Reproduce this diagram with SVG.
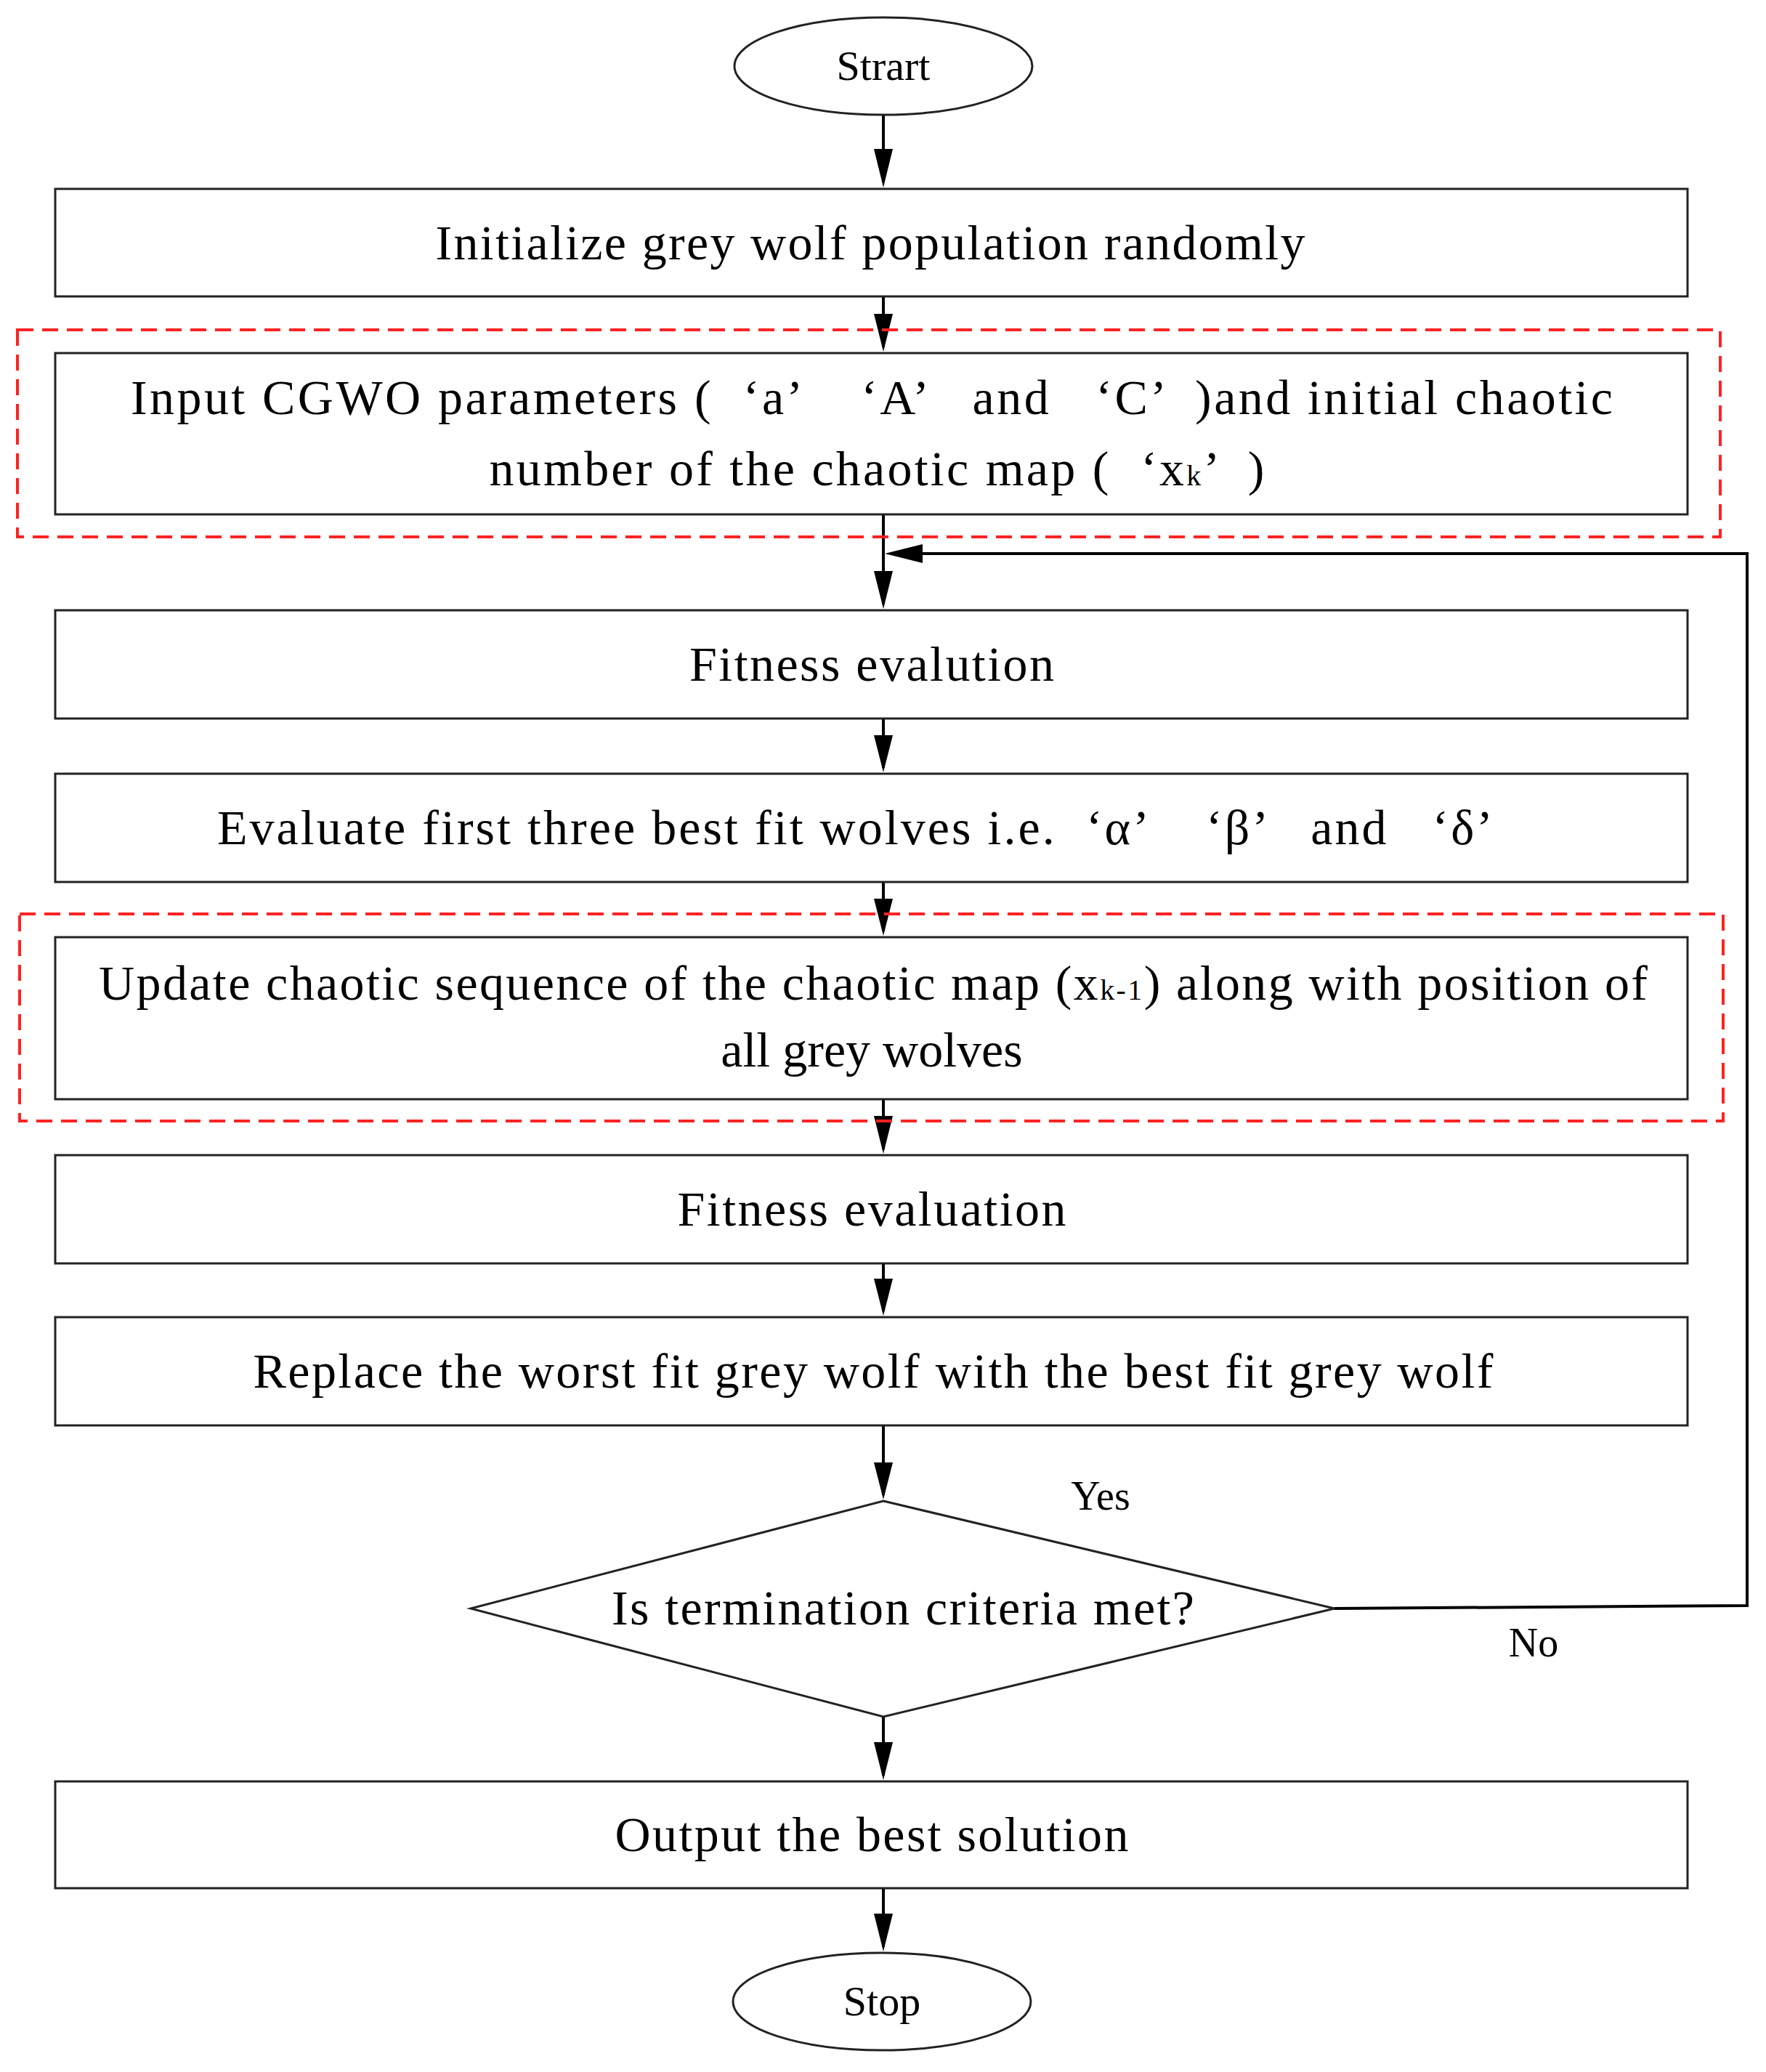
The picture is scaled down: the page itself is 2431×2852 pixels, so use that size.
<svg xmlns="http://www.w3.org/2000/svg" width="2431" height="2852" viewBox="0 0 2431 2852">
<style>
.b{fill:#fff;stroke:#222;stroke-width:3}
.t{font-family:"Liberation Serif",serif;font-size:68px;fill:#000;text-anchor:middle}
.l{fill:none;stroke:#000;stroke-width:4}
.r{fill:none;stroke:#f22;stroke-width:4;stroke-dasharray:22,12}
.s{font-size:40px}
</style>
<rect width="2431" height="2852" fill="#fff"/>
<g id="connectors">
<path class="l" d="M1216,158V250"/><path d="M1203,205L1216,258L1229,205z"/>
<path class="l" d="M1216,408V478"/><path d="M1203,432L1216,484L1229,432z"/>
<path class="l" d="M1216,708V832"/><path d="M1203,786L1216,838L1229,786z"/>
<path class="l" d="M1216,989V1057"/><path d="M1203,1012L1216,1063L1229,1012z"/>
<path class="l" d="M1216,1214V1282"/><path d="M1203,1237L1216,1288L1229,1237z"/>
<path class="l" d="M1216,1513V1582"/><path d="M1203,1536L1216,1588L1229,1536z"/>
<path class="l" d="M1216,1739V1805"/><path d="M1203,1760L1216,1811L1229,1760z"/>
<path class="l" d="M1216,1962V2058"/><path d="M1203,2013L1216,2064L1229,2013z"/>
<path class="l" d="M1216,2363V2444"/><path d="M1203,2398L1216,2450L1229,2398z"/>
<path class="l" d="M1216,2599V2680"/><path d="M1203,2634L1216,2686L1229,2634z"/>
<path class="l" d="M1837,2214L2405,2210V762H1226"/><path d="M1270,749L1218,762L1270,775z"/>
<text class="t" x="1515" y="2078" style="font-size:56px">Yes</text>
<text class="t" x="2111" y="2280" style="font-size:56px">No</text>
</g>
<rect class="r" x="24" y="454" width="2344" height="285"/>
<rect class="r" x="27" y="1258" width="2345" height="285"/>
<g id="start"><ellipse class="b" cx="1216" cy="91" rx="205" ry="67"/><text class="t" x="1216" y="110" style="font-size:58px">Strart</text></g>
<g id="init"><rect class="b" x="76" y="260" width="2247" height="148"/><text class="t" x="1198" y="357" textLength="1197">Initialize grey wolf population randomly</text></g>
<g id="input"><rect class="b" x="76" y="486" width="2247" height="222"/><text class="t" x="1200" y="570" textLength="2040" xml:space="preserve">Input CGWO parameters (  ‘a’    ‘A’   and   ‘C’  )and initial chaotic</text><text class="t" x="1207" y="668" textLength="1067" xml:space="preserve">number of the chaotic map (  ‘x<tspan class="s">k</tspan>’  )</text></g>
<g id="fit1"><rect class="b" x="76" y="840" width="2247" height="149"/><text class="t" x="1200" y="937" textLength="502">Fitness evalution</text></g>
<g id="eval"><rect class="b" x="76" y="1065" width="2247" height="149"/><text class="t" x="1177" y="1162" textLength="1756" xml:space="preserve">Evaluate first three best fit wolves i.e.  ‘α’    ‘β’   and   ‘δ’</text></g>
<g id="update"><rect class="b" x="76" y="1290" width="2247" height="223"/><text class="t" x="1202" y="1376" textLength="2132">Update chaotic sequence of the chaotic map (x<tspan class="s">k-1</tspan>) along with position of</text><text class="t" x="1200" y="1468">all grey wolves</text></g>
<g id="fit2"><rect class="b" x="76" y="1590" width="2247" height="149"/><text class="t" x="1200" y="1687" textLength="535">Fitness evaluation</text></g>
<g id="replace"><rect class="b" x="76" y="1813" width="2247" height="149"/><text class="t" x="1202" y="1910" textLength="1707">Replace the worst fit grey wolf with the best fit grey wolf</text></g>
<g id="decision"><polygon class="b" points="1216,2066 1837,2214 1216,2363 648,2214"/><text class="t" x="1243" y="2236" textLength="802">Is termination criteria met?</text></g>
<g id="output"><rect class="b" x="76" y="2452" width="2247" height="147"/><text class="t" x="1200" y="2548" textLength="707">Output the best solution</text></g>
<g id="stop"><ellipse class="b" cx="1214" cy="2755" rx="205" ry="67"/><text class="t" x="1214" y="2774" style="font-size:58px">Stop</text></g>
</svg>
